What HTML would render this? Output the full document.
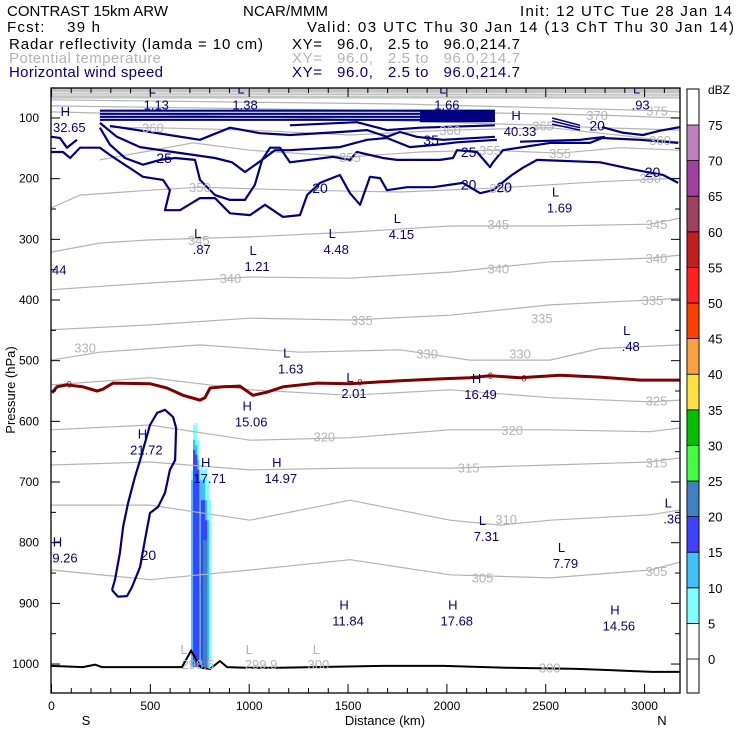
<!DOCTYPE html>
<html><head><meta charset="utf-8">
<style>
html,body{margin:0;padding:0;background:#fff;}
svg{display:block;font-family:"Liberation Sans",sans-serif;}
</style></head>
<body>
<svg id="chart" width="740" height="740" viewBox="0 0 740 740" xmlns="http://www.w3.org/2000/svg">
<defs><clipPath id="plotclip"><rect x="51" y="88" width="629" height="605"/></clipPath></defs>
<g font-size="15">
<text x="7" y="16" textLength="161">CONTRAST 15km ARW</text>
<text x="243" y="16" textLength="85">NCAR/MMM</text>
<text x="520" y="16" textLength="212">Init: 12 UTC Tue 28 Jan 14</text>
<text x="7" y="32" textLength="93" xml:space="preserve">Fcst:    39 h</text>
<text x="307" y="32" textLength="427">Valid: 03 UTC Thu 30 Jan 14 (13 ChT Thu 30 Jan 14)</text>
<text x="9" y="49" textLength="254">Radar reflectivity (lamda = 10 cm)</text>
<text x="292" y="49" textLength="228" xml:space="preserve">XY=   96.0,   2.5 to   96.0,214.7</text>
<text x="9" y="63" textLength="152" fill="#b4b4b4">Potential temperature</text>
<text x="292" y="63" textLength="228" fill="#b4b4b4" xml:space="preserve">XY=   96.0,   2.5 to   96.0,214.7</text>
<text x="9" y="77" textLength="154" fill="#000080">Horizontal wind speed</text>
<text x="292" y="77" textLength="228" fill="#000080" xml:space="preserve">XY=   96.0,   2.5 to   96.0,214.7</text>
</g>
<g id="plot" clip-path="url(#plotclip)"></g>
<g id="labels"></g>
<g id="axes"></g>
<g id="cbar"></g>
</svg>
<script>
// ---------- data ----------
const xTicks=[0,500,1000,1500,2000,2500,3000];
const yTicks=[100,200,300,400,500,600,700,800,900,1000];
const cbarLevels=[0,5,10,15,20,25,30,35,40,45,50,55,60,65,70,75];
const cbarColors=["#ffffff","#80ffff","#40c0ff","#4040ff","#4080c0","#40ff40","#00c000","#ffe040","#ffa040","#ff4000","#ff2020","#c02020","#a04060","#a040a0","#c080c0"];
// radar reflectivity column (km bin centres, top pressure of each dBZ threshold)
const radarKm=[711,721,731,741,751,761,771,781,791,801];
const radar5Top=[680,606,603,631,680,672,680,677,697,730];
const radar10Top=[697,631,639,664,697,697,697,730,763,null];
const radar15Top=[null,647,655,680,null,730,730,763,null,null];
const radar20Top=[null,null,null,null,null,null,796,796,null,null];
// potential temperature contours [km, hPa]
const theta375=[[0,70],[1763,77],[3063,88],[3180,90]];
const theta370=[[0,80],[1510,87],[2760,95],[3180,100]];
const theta365=[[0,90],[1257,100],[2486,112],[2775,116],[3180,120]];
const theta360=[[296,116],[514,116],[1004,120],[1510,128],[2016,120],[2522,116],[3078,136],[3180,140]];
const theta355=[[245,169],[716,141],[1004,153],[1510,164],[1864,156],[2218,153],[2572,158],[2876,149],[3180,153]];
const theta350=[[0,248],[144,227],[498,219],[751,214],[1257,219],[1763,222],[2269,215],[2775,205],[3180,199]];
const theta345=[[0,321],[245,306],[498,301],[1004,296],[1510,288],[2016,278],[2522,278],[3028,275],[3180,265]];
const theta340=[[0,383],[498,372],[1004,362],[1510,364],[2016,354],[2522,337],[3028,331],[3180,326]];
const theta335=[[0,449],[498,441],[1004,430],[1510,433],[2016,425],[2522,408],[3028,400],[3180,397]];
const theta330=[[0,499],[245,486],[751,474],[1257,486],[1763,482],[2117,499],[2522,499],[2775,480],[3180,474]];
const theta325=[[0,540],[498,528],[1004,548],[1510,557],[2016,548],[2522,561],[3028,568],[3180,565]];
const theta320=[[0,614],[498,606],[1004,631],[1510,627],[2016,614],[2522,614],[3028,617],[3180,611]];
const theta315=[[0,672],[498,667],[1004,680],[1510,677],[2016,677],[2522,672],[3028,667],[3180,660]];
const theta310=[[0,738],[498,738],[1004,763],[1510,730],[2016,763],[2269,771],[2522,763],[3028,754],[3180,746]];
const theta305=[[0,845],[498,861],[1004,845],[1510,828],[2016,853],[2522,858],[3028,845],[3180,832]];
// wind speed contours [km, hPa]
const windTop=[[1206,112],[1545,107],[1697,120],[1864,116],[2243,112]];
const wind35=[[296,113],[498,123],[751,136],[903,116],[1055,125],[1206,128],[1459,123],[1596,120],[1697,131],[1763,123],[1848,131],[1980,136],[2243,131]];
const wind30=[[245,108],[331,131],[448,148],[615,156],[827,166],[913,173],[979,189],[1065,169],[1130,153],[1206,153],[1459,148],[1596,136],[1697,133],[1813,148],[1950,144],[2051,140],[2253,136]];
const wind25=[[245,116],[296,144],[372,166],[463,177],[549,169],[625,166],[726,169],[751,202],[827,227],[903,235],[979,235],[1029,210],[1065,169],[1105,149],[1156,149],[1206,173],[1424,164],[1510,169],[1545,156],[1677,166],[1747,169],[1965,169],[2031,166],[2051,153],[2152,156],[2218,181],[2233,173],[2284,153],[2522,141],[2724,141],[2785,133],[2977,136],[3170,141]];
const wind20=[[0,156],[58,156],[94,166],[144,149],[245,149],[296,161],[463,197],[564,202],[599,219],[574,252],[650,252],[751,232],[827,232],[903,257],[1004,260],[1080,243],[1171,263],[1257,260],[1293,227],[1358,207],[1459,194],[1510,224],[1561,243],[1611,197],[1662,199],[1697,219],[1798,214],[1930,214],[2081,207],[2168,224],[2233,219],[2329,194],[2385,182],[2456,169],[2775,173],[2962,186],[3094,194],[3170,207]];
const windV=[[0,131],[43,133],[78,149],[129,136]];
const windR1=[[2785,115],[2886,124],[2992,128],[3078,121],[3180,115]];
const windR2=[[2370,139],[2674,136],[2800,131]];
const windLoop=[[306,878],[336,889],[382,888],[407,873],[448,840],[473,795],[498,751],[539,741],[574,718],[599,680],[625,664],[630,611],[615,593],[574,581],[534,586],[498,606],[448,664],[422,692],[387,735],[362,774],[346,817],[321,861],[306,878]];
const jetLevels=[88,93,98,103];
const jetKm=[245,2243];
// freezing level and terrain
const freezing=[[3,553],[28,543],[78,540],[159,543],[230,550],[260,547],[311,537],[498,538],[584,545],[665,557],[751,565],[776,561],[802,545],[868,543],[953,542],[1019,557],[1090,552],[1171,543],[1343,537],[1510,538],[1763,533],[1965,530],[2117,528],[2218,525],[2370,528],[2572,524],[2775,527],[2977,532],[3180,532]];
const terrain=[[0,1003],[159,1005],[220,1001],[255,1005],[660,1005],[706,978],[756,1006],[802,1008],[852,995],[888,1005],[984,1006],[1151,1006],[1677,1003],[1985,1003],[2299,1006],[2658,1008],[2825,1010],[3038,1013],[3180,1013]];
// H/L extrema: [type, value, km, hPa]
const extrema=[["L","1.13",530,60],["L","1.38",979,60],["L","1.66",2000,60],["L",".93",2980,60],["H","32.65",90,97],["H","40.33",2370,103],
["L",".87",760,298],["L","1.21",1040,326],["L","4.48",1440,298],["L","4.15",1770,273],["L","1.69",2570,229],["L","1.63",1210,495],
["L","2.01",1530,535],["H","16.49",2170,537],["L",".48",2930,458],["H","15.06",1010,582],["H","21.72",480,628],["H","17.71",800,675],
["H","14.97",1160,675],["H","19.26",50,806],["L","7.31",2200,771],["L","7.79",2600,815],["H","11.84",1500,910],["H","17.68",2050,910],["H","14.56",2870,918],["L",".36",3140,742]];
const windLabels=[["25",570,166],["20",1358,215],["35",1920,136],["25",2110,156],["20",2110,210],["20",2290,214],["20",3040,189],["20",2760,112],["20",490,820]];
const thetaLabels=[["360",513,116],["355",1510,164],["355",2218,153],["355",2572,158],["360",2016,120],["365",2486,112],["370",2760,95],["375",3063,88],["360",3078,136],
["350",751,214],["350",2269,215],["350",3028,199],["345",745,301],["345",2260,275],["345",3060,275],["340",905,364],["340",3060,331],["340",2260,348],
["335",1570,433],["335",2480,430],["335",3040,400],["330",170,478],["330",1900,488],["330",2370,488],["325",3060,566],["320",1380,625],["320",2330,614],
["315",2110,676],["315",3060,668],["310",2300,761],["305",2180,857],["305",3060,847],["298.5",740,1000],["299.9",1060,1000],["300",1350,1000],["300",2520,1006]];
const thetaLows=[["L",670,975],["L",1000,975],["L",1340,975]];
const freezeLabels=[[90,539],[1560,536],[2220,525],[2390,529]];

// ---------- axis functions ----------
const X0=51.5,KX=0.1977,Y0=118,KY=0.6067;
function sx(km){return X0+km*KX;}
function sy(p){return Y0+(p-100)*KY;}
const NS="http://www.w3.org/2000/svg";
const plot=document.getElementById('plot');
const labels=document.getElementById('labels');
const axes=document.getElementById('axes');
const cbar=document.getElementById('cbar');
function mk(tag,attrs,parent){const e=document.createElementNS(NS,tag);for(const k in attrs)e.setAttribute(k,attrs[k]);parent.appendChild(e);return e;}
function pathOf(pts){return pts.map((p,i)=>(i?'L':'M')+sx(p[0]).toFixed(1)+' '+sy(p[1]).toFixed(1)).join(' ');}

let band=mk('rect',{x:sx(0),y:88,width:sx(3200)-sx(0),height:sy(68)-88,fill:'#c4c4c4'},plot);



const radarSets=[[radar5Top,1],[radar10Top,2],[radar15Top,3],[radar20Top,4]];
radarSets.forEach(function(set){
  const tops=set[0],col=cbarColors[set[1]];
  radarKm.forEach(function(km,i){
    if(tops[i]===null)return;
    const r=mk('rect',{x:sx(km-5),y:sy(tops[i]),width:sx(km+5)-sx(km-5)+0.3,height:sy(1005)-sy(tops[i]),fill:col},plot);
    
    
  });
});

const thetaAll=[theta375,theta370,theta365,theta360,theta355,theta350,theta345,theta340,theta335,theta330,theta325,theta320,theta315,theta310,theta305];
thetaAll.forEach(function(c){
  const p=mk('path',{d:pathOf(c),fill:'none',stroke:'#b4b4b4','stroke-width':1.2},plot);
  
  
});
[62,58].forEach(function(pp){
  const l=mk('path',{d:pathOf([[0,pp],[3200,pp+2]]),fill:'none',stroke:'#e8e8e8','stroke-width':1},plot);
  
  
});

const windAll=[windTop,wind35,wind30,wind25,wind20,windV,windR1,windR2,windLoop];
windAll.forEach(function(c){
  const p=mk('path',{d:pathOf(c),fill:'none',stroke:'#000080','stroke-width':2.2,'stroke-linejoin':'round'},plot);
  
  
});
jetLevels.forEach(function(pp){
  const p=mk('path',{d:pathOf([[jetKm[0],pp],[jetKm[1],pp]]),fill:'none',stroke:'#000080','stroke-width':2.2},plot);
  
  
});
let jb=mk('rect',{x:sx(1864),y:sy(88),width:sx(2243)-sx(1864),height:sy(107)-sy(88),fill:'#000080'},plot);


[[2532,100,2674,112],[2532,105,2674,116],[2532,110,2674,120]].forEach(function(s){
  const p=mk('path',{d:pathOf([[s[0],s[1]],[s[2],s[3]]]),stroke:'#000080','stroke-width':1.5},plot);
  
  
});

let fz=mk('path',{d:pathOf(freezing),fill:'none',stroke:'#800000','stroke-width':3},plot);


freezeLabels.forEach(function(f){
  const t=mk('text',{x:sx(f[0]),y:sy(f[1])+3,'font-size':9,fill:'#800000','text-anchor':'middle'},plot);
  t.textContent='0';
  
  
});

let tr=mk('path',{d:pathOf(terrain),fill:'none',stroke:'#000','stroke-width':2},plot);



thetaLabels.forEach(function(l){
  const t=mk('text',{x:sx(l[1]),y:sy(l[2])+5,'font-size':13,fill:'#b4b4b4','text-anchor':'middle'},plot);
  t.textContent=l[0];
  
  
});
thetaLows.forEach(function(l){
  const t=mk('text',{x:sx(l[1]),y:sy(l[2])+5,'font-size':13,fill:'#b4b4b4','text-anchor':'middle'},plot);
  t.textContent=l[0];
  
  
});
windLabels.forEach(function(l){
  const t=mk('text',{x:sx(l[1]),y:sy(l[2])+5,'font-size':14,fill:'#000080','text-anchor':'middle'},plot);
  t.textContent=l[0];
  
  
});
extrema.forEach(function(e){
  const x=sx(e[2]),y=sy(e[3]);
  const a=mk('text',{x:x-4,y:y,'font-size':13,fill:'#000080','text-anchor':'middle'},plot);
  a.textContent=e[0];
  
  
  const b=mk('text',{x:x,y:y+16,'font-size':13,fill:'#000080','text-anchor':'middle'},plot);
  b.textContent=e[1];
  
  
});
let t44=mk('text',{x:52,y:sy(350)+5,'font-size':13,fill:'#000080'},plot);
t44.textContent='44';



let frame=mk('rect',{x:51,y:88,width:629,height:605,fill:'none',stroke:'#000','stroke-width':1.3},axes);


for(let km=0;km<=3100;km+=100){
  const major=km%500===0, len=major?9:5, x=sx(km);
  const a=mk('line',{x1:x,y1:693,x2:x,y2:693-len,stroke:'#000'},axes);
  
  
  const b=mk('line',{x1:x,y1:88,x2:x,y2:88+len,stroke:'#000'},axes);
  
  
}
for(let p=50;p<=1050;p+=50){
  const major=p%100===0, len=major?9:5, y=sy(p);
  if(y<88||y>693)continue;
  const a=mk('line',{x1:51,y1:y,x2:51+len,y2:y,stroke:'#000'},axes);
  
  
  const b=mk('line',{x1:680,y1:y,x2:680-len,y2:y,stroke:'#000'},axes);
  
  
}
xTicks.forEach(function(v){
  const t=mk('text',{x:sx(v),y:710,'font-size':12,'text-anchor':'middle'},axes);
  t.textContent=String(v);
  
  
});
yTicks.forEach(function(v){
  const t=mk('text',{x:39,y:sy(v)+4,'font-size':12,'text-anchor':'end'},axes);
  t.textContent=String(v);
  
  
});
let xt=mk('text',{x:385,y:725,'font-size':13,'text-anchor':'middle'},axes);
xt.textContent='Distance (km)';


let sl=mk('text',{x:86,y:725,'font-size':13,'text-anchor':'middle'},axes);
sl.textContent='S';


let nl=mk('text',{x:662,y:725,'font-size':13,'text-anchor':'middle'},axes);
nl.textContent='N';


let yt=mk('text',{x:0,y:0,'font-size':13,'text-anchor':'middle',transform:'translate(15,390) rotate(-90)'},axes);
yt.textContent='Pressure (hPa)';



const CB_X=687,CB_W=12,CB_TOP=89,CB_BOT=693,STEP=35.6;
function cy(level){return 659-(level/5)*STEP;}
let cbOuter=mk('rect',{x:CB_X,y:CB_TOP,width:CB_W,height:CB_BOT-CB_TOP,fill:'#fff',stroke:'#000'},cbar);


cbarColors.forEach(function(c,i){
  const y1=cy(cbarLevels[i]+5),y2=cy(cbarLevels[i]);
  const r=mk('rect',{x:CB_X,y:y1,width:CB_W,height:y2-y1,fill:c,stroke:'#000','stroke-width':0.8},cbar);
  
  
});
cbarLevels.forEach(function(l){
  const t=mk('text',{x:708,y:cy(l)+5,'font-size':13},cbar);
  t.textContent=String(l);
  
  
});
let du=mk('text',{x:708,y:94,'font-size':12},cbar);
du.textContent='dBZ';


</script>
</body></html>
